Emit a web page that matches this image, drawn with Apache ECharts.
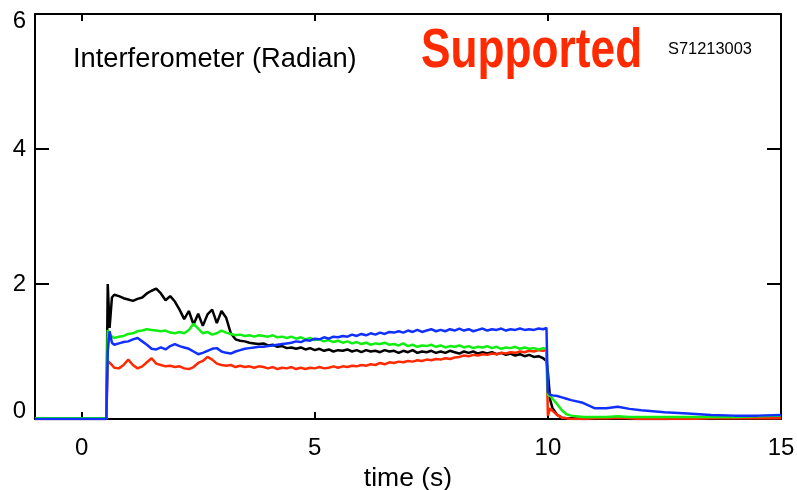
<!DOCTYPE html>
<html>
<head>
<meta charset="utf-8">
<script src="https://cdn.jsdelivr.net/npm/echarts@6/dist/echarts.min.js"></script>
<style>
  html, body { margin: 0; padding: 0; background: #fff; }
  #chartBox { width: 797px; height: 490px; }
</style>
</head>
<body>
<div id="chartBox"></div>
<script>
// time base shared by all four traces (s)
var timeData = [-1, 0, 0.53, 0.56, 0.6, 0.65,
  0.7, 0.8, 0.9, 1.0, 1.1, 1.2, 1.3, 1.4, 1.5, 1.6,
  1.7, 1.8, 1.9, 2.0, 2.1, 2.2, 2.3, 2.4, 2.5, 2.6,
  2.7, 2.8, 2.9, 3.0, 3.1, 3.2, 3.3, 3.4, 3.5, 3.6,
  3.7, 3.8, 3.9, 4.0, 4.1, 4.2, 4.3, 4.4, 4.5, 4.6,
  4.7, 4.8, 4.9, 5.0, 5.1, 5.2, 5.3, 5.4, 5.5, 5.6,
  5.7, 5.8, 5.9, 6.0, 6.1, 6.2, 6.3, 6.4, 6.5, 6.6,
  6.7, 6.8, 6.9, 7.0, 7.1, 7.2, 7.3, 7.4, 7.5, 7.6,
  7.7, 7.8, 7.9, 8.0, 8.1, 8.2, 8.3, 8.4, 8.5, 8.6,
  8.7, 8.8, 8.9, 9.0, 9.1, 9.2, 9.3, 9.4, 9.5, 9.6,
  9.7, 9.8, 9.9, 9.97,
  10.0, 10.05, 10.1, 10.2, 10.3, 10.4, 10.5, 10.75, 11.0, 11.25, 11.5, 11.75, 12.0, 12.5, 13.0, 13.5, 14.0, 14.5, 15.0]

// 黑
var blackData = [0, 0, 0, 2.00, 1.35, 1.80,
  1.84, 1.82, 1.79, 1.77, 1.75, 1.78, 1.80, 1.86, 1.90, 1.93,
  1.86, 1.76, 1.82, 1.74, 1.62, 1.48, 1.60, 1.40, 1.56, 1.38,
  1.55, 1.62, 1.42, 1.60, 1.50, 1.27, 1.18, 1.16, 1.15, 1.13,
  1.12, 1.11, 1.12, 1.09, 1.10, 1.07, 1.08, 1.05, 1.06, 1.04,
  1.06, 1.03, 1.05, 1.02, 1.04, 1.01, 1.03, 1.00, 1.02, 1.01,
  1.03, 1.00, 1.02, 0.99, 1.02, 1.00, 1.01, 0.99, 1.02, 1.00,
  1.01, 0.98, 1.01, 0.99, 1.02, 0.98, 1.00, 0.99, 1.01, 0.98,
  1.00, 0.98, 1.01, 0.99, 0.97, 1.00, 0.98, 1.00, 0.97, 0.99,
  0.97, 0.99, 0.96, 0.98, 0.95, 0.97, 0.94, 0.96, 0.93, 0.95,
  0.92, 0.93, 0.90, 0.86,
  0.70, 0.28, 0.16, 0.06, 0.02, 0.01, 0.01, 0.00, 0.00, 0.01, 0.01, 0.00, 0.00, 0.00, 0.01, 0.00, 0.01, 0.01, 0.02]

// 红
var redData = [0, 0, 0, 0.86, 0.88, 0.80,
  0.76, 0.75, 0.80, 0.88, 0.80, 0.75, 0.78, 0.84, 0.90, 0.82,
  0.80, 0.78, 0.79, 0.77, 0.78, 0.75, 0.74, 0.77, 0.83, 0.86,
  0.92, 0.88, 0.82, 0.80, 0.79, 0.80, 0.77, 0.79, 0.77, 0.78,
  0.76, 0.78, 0.77, 0.75, 0.77, 0.74, 0.76, 0.75, 0.77, 0.74,
  0.76, 0.74, 0.76, 0.75, 0.77, 0.75, 0.76, 0.78, 0.76, 0.78,
  0.77, 0.79, 0.78, 0.80, 0.79, 0.81, 0.80, 0.83, 0.81, 0.84,
  0.83, 0.85, 0.84, 0.86, 0.85, 0.87, 0.86, 0.88, 0.87, 0.89,
  0.88, 0.90, 0.89, 0.91, 0.92, 0.94, 0.93, 0.95, 0.94, 0.96,
  0.95, 0.97, 0.96, 0.98, 0.97, 0.99, 0.98, 1.00, 0.99, 1.01,
  1.00, 1.02, 1.01, 1.02,
  0.05, 0.16, 0.12, 0.06, 0.02, 0.01, 0.00, 0.00, 0.01, 0.01, 0.02, 0.01, 0.00, 0.00, 0.00, 0.01, 0.01, 0.01, 0.01]

// 绿
var greenData = [0.01, 0.01, 0.01, 1.32, 1.26, 1.22,
  1.20, 1.22, 1.23, 1.26, 1.27, 1.30, 1.31, 1.33, 1.32, 1.31,
  1.30, 1.31, 1.28, 1.27, 1.29, 1.27, 1.32, 1.41, 1.34, 1.27,
  1.29, 1.25, 1.27, 1.31, 1.28, 1.26, 1.24, 1.25, 1.23, 1.24,
  1.22, 1.24, 1.23, 1.22, 1.24, 1.21, 1.22, 1.20, 1.22, 1.19,
  1.21, 1.18, 1.20, 1.17, 1.18, 1.15, 1.17, 1.14, 1.16, 1.13,
  1.15, 1.12, 1.14, 1.11, 1.13, 1.10, 1.12, 1.11, 1.13, 1.10,
  1.11, 1.09, 1.12, 1.08, 1.10, 1.07, 1.09, 1.08, 1.10, 1.07,
  1.09, 1.06, 1.08, 1.07, 1.09, 1.06, 1.08, 1.05, 1.07, 1.06,
  1.08, 1.05, 1.07, 1.04, 1.06, 1.05, 1.07, 1.04, 1.06, 1.04,
  1.05, 1.03, 1.05, 1.04,
  0.36, 0.34, 0.30, 0.22, 0.13, 0.07, 0.05, 0.03, 0.03, 0.03, 0.04, 0.03, 0.03, 0.03, 0.03, 0.03, 0.03, 0.04, 0.05]

// 蓝
var blueData = [0, 0, 0, 1.00, 1.30, 1.13,
  1.10, 1.12, 1.14, 1.15, 1.18, 1.20, 1.15, 1.10, 1.04, 1.03,
  1.06, 1.03, 1.08, 1.11, 1.08, 1.06, 1.04, 1.00, 0.96, 0.98,
  1.01, 1.04, 1.05, 1.00, 0.98, 0.97, 1.00, 1.02, 1.04, 1.05,
  1.06, 1.07, 1.07, 1.08, 1.09, 1.10, 1.11, 1.12, 1.13, 1.15,
  1.14, 1.17, 1.16, 1.19, 1.18, 1.21, 1.19, 1.22, 1.21, 1.23,
  1.22, 1.25, 1.23, 1.26, 1.24, 1.27, 1.25, 1.28, 1.26, 1.29,
  1.28, 1.30, 1.28, 1.31, 1.29, 1.32, 1.29, 1.31, 1.33, 1.30,
  1.32, 1.30, 1.33, 1.31, 1.34, 1.31, 1.33, 1.30, 1.32, 1.34,
  1.31, 1.33, 1.32, 1.34, 1.31, 1.33, 1.32, 1.34, 1.32, 1.33,
  1.32, 1.34, 1.33, 1.35,
  0.40, 0.36, 0.35, 0.34, 0.32, 0.30, 0.28, 0.24, 0.16, 0.16, 0.18, 0.15, 0.13, 0.10, 0.08, 0.06, 0.05, 0.05, 0.06]

var xTicks = [0, 5, 10, 15]
var yTicks = [0, 2, 4, 6]

function pairUp (ys) {
  return timeData.map(function (t, i) { return [t, ys[i]] })
}

function trace (data, color) {
  return {
    type: 'line',
    data: pairUp(data),
    showSymbol: false,
    animation: false,
    lineStyle: { color: color, width: 2.5 }
  }
}

var axisColor = '#000'
var font = 'Liberation Sans, Arial, Helvetica, sans-serif'
var labelStyle = { fontSize: 24, color: '#000', fontFamily: font }

var myChart = echarts.init(document.getElementById('chartBox'))
myChart.setOption({
  animation: false,
  grid: { left: 35, right: 16, top: 14, bottom: 71, outerBoundsMode: 'none' },
  xAxis: [
    {
      type: 'value',
      min: -1,
      max: 15,
      name: 'time (s)',
      nameLocation: 'middle',
      nameGap: 40,
      nameTextStyle: { fontSize: 26.5, color: '#000', fontFamily: font },
      axisLine: { onZero: false, lineStyle: { color: axisColor, width: 2 } },
      axisTick: { inside: true, length: 7, customValues: xTicks, lineStyle: { width: 2 } },
      axisLabel: { customValues: xTicks, fontSize: 24, color: '#000', fontFamily: font, margin: 17 },
      splitLine: { show: false }
    },
    {
      type: 'value',
      position: 'top',
      min: -1,
      max: 15,
      axisLine: { onZero: false, lineStyle: { color: axisColor, width: 2 } },
      axisTick: { inside: true, length: 7, customValues: [0, 5, 10], lineStyle: { width: 2 } },
      axisLabel: { show: false },
      splitLine: { show: false }
    }
  ],
  yAxis: [
    {
      type: 'value',
      min: 0,
      max: 6,
      interval: 2,
      axisLine: { show: true, onZero: false, lineStyle: { color: axisColor, width: 2 } },
      axisTick: { show: true, inside: true, length: 14, lineStyle: { width: 2 } },
      axisLabel: {
        margin: 9,
        formatter: function (v) {
          if (v === yTicks[0]) return '{lo|' + v + '}'
          if (v === yTicks[yTicks.length - 1]) return '{hi|' + v + '}'
          return '{mid|' + v + '}'
        },
        rich: {
          lo: Object.assign({ padding: [0, 0, 16, 0] }, labelStyle),
          hi: Object.assign({ padding: [15, 0, 0, 0] }, labelStyle),
          mid: labelStyle
        }
      },
      splitLine: { show: false }
    },
    {
      type: 'value',
      position: 'right',
      min: 0,
      max: 6,
      interval: 2,
      axisLine: { show: true, onZero: false, lineStyle: { color: axisColor, width: 2 } },
      axisTick: { show: true, inside: true, length: 14, lineStyle: { width: 2 } },
      axisLabel: { show: false },
      splitLine: { show: false }
    }
  ],
  graphic: [
    {
      type: 'text',
      x: 73,
      y: 59,
      style: {
        text: 'Interferometer (Radian)',
        fill: '#000',
        font: '27.3px ' + font,
        verticalAlign: 'middle'
      }
    },
    {
      type: 'text',
      x: 421,
      y: 52,
      scaleX: 0.79,
      style: {
        text: 'Supported',
        fill: '#ff2a00',
        font: 'bold 56px ' + font,
        verticalAlign: 'middle'
      }
    },
    {
      type: 'text',
      x: 668,
      y: 49,
      style: {
        text: 'S71213003',
        fill: '#000',
        font: '16.4px ' + font,
        verticalAlign: 'middle'
      }
    }
  ],
  series: [
    trace(blackData, '#000000'),
    trace(redData, '#ff2a00'),
    trace(greenData, '#11ee11'),
    trace(blueData, '#1030ff')
  ]
})
</script>
</body>
</html>
